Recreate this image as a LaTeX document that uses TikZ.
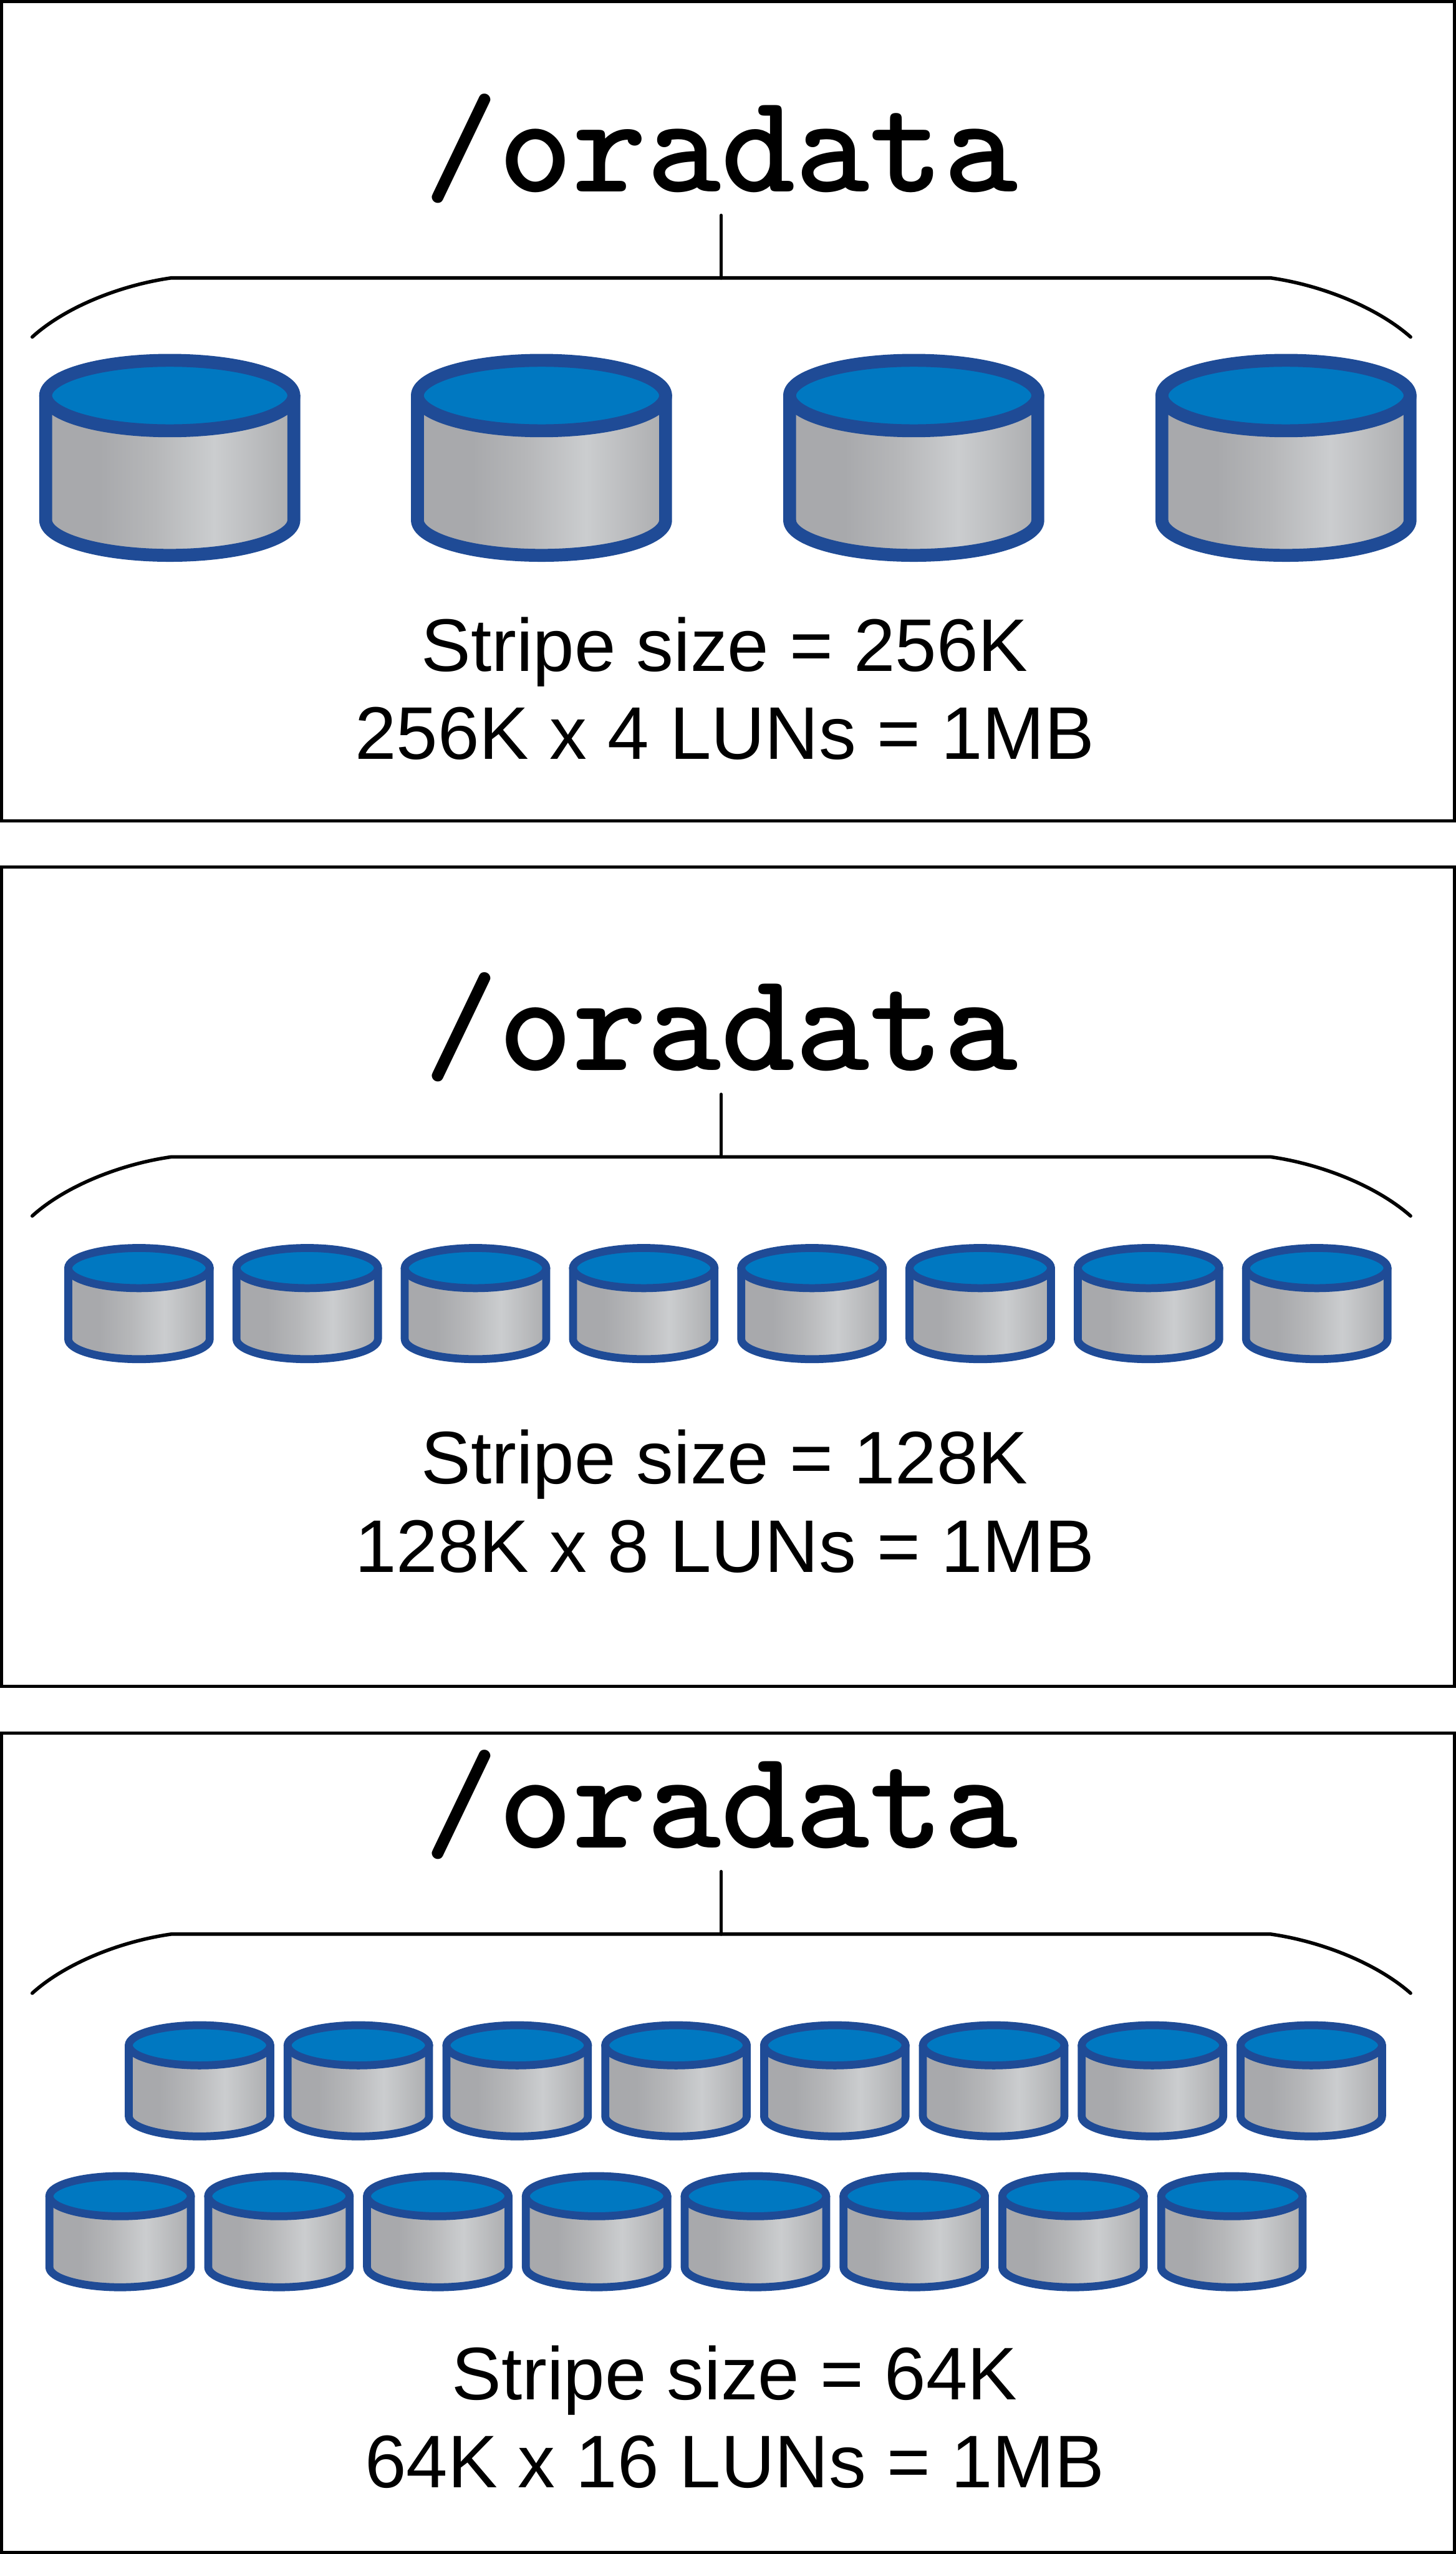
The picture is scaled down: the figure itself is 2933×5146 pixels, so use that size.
\documentclass[tikz,border=0pt]{standalone}
\usepackage{fontspec}
\setmainfont{Liberation Sans}
\usetikzlibrary{positioning,calc}
\definecolor{diskblue}{HTML}{1F4B96}
\definecolor{disktop}{HTML}{0078C1}
\definecolor{diskdark}{HTML}{A8A9AC}
\definecolor{diskmid}{HTML}{B6B7B9}
\definecolor{disklight}{HTML}{CBCDCF}
\definecolor{diskend}{HTML}{ACADAF}
\pgfdeclarehorizontalshading{diskshade}{100bp}{color(0bp)=(diskdark);color(36bp)=(diskdark);color(47bp)=(diskmid);color(59bp)=(disklight);color(75bp)=(diskend);color(100bp)=(diskend)}
\tikzset{x=0.01cm,y=-0.01cm,
  panelbox/.style={draw=black,line width=0.06cm,fill=white,outer sep=0pt,minimum width=29.26cm,minimum height=16.5cm,anchor=north west},
  titlelabel/.style={font=\fontsize{81}{81}\selectfont\ttfamily\bfseries\addfontfeature{FakeBold=2},inner sep=0pt,anchor=base},
  stripelabel/.style={font=\fontsize{42.7}{50.4}\selectfont,align=center,inner sep=0pt},
  bracketline/.style={draw=black,line width=0.07cm,line cap=round},
  lundisk/.pic={
    \draw[draw=diskblue,shading=diskshade,line join=round] (-250,0) -- (-250,251) .. controls (-250,290) and (-138,322) .. (0,322) .. controls (138,322) and (250,290) .. (250,251) -- (250,0) -- cycle;
    \draw[draw=diskblue,fill=disktop] (0,0) ellipse [x radius=250,y radius=71];
  },
  bigdisk/.style={scale=1,line width=0.26cm},
  smalldisk/.style={scale=0.57,line width=0.16cm}}
\begin{document}
\begin{tikzpicture}
\useasboundingbox (0,0) rectangle (2933,5146);
% top panel
\node[panelbox] (pa) at (3,3) {};
\node[titlelabel] (ta) at (1453,386) {/oradata};
\node[stripelabel] (la) at (1460,1387) {Stripe size = 256K\\256K x 4 LUNs = 1MB};
\foreach \n/\cx in {1/342,2/1091,3/1841,4/2591}
  \pic[bigdisk] (da\n) at (\cx,797) {lundisk};
% middle panel
\node[panelbox] (pb) at (3,1747) {};
\node[titlelabel] (tb) at (1453,2157) {/oradata};
\node[stripelabel] (lb) at (1460,3025) {Stripe size = 128K\\128K x 8 LUNs = 1MB};
\foreach \n in {0,...,7}
  \pic[smalldisk] (db\n) at ({280+339*\n},2555) {lundisk};
% bottom panel
\node[panelbox] (pc) at (3,3492) {};
\node[titlelabel] (tc) at (1453,3723) {/oradata};
\node[stripelabel] (lc) at (1480,4870) {Stripe size = 64K\\64K x 16 LUNs = 1MB};
\foreach \n in {0,...,7} {
  \pic[smalldisk] (dc\n) at ({402+320*\n},4121) {lundisk};
  \pic[smalldisk] (dd\n) at ({242+320*\n},4425) {lundisk};
}
% brackets
\foreach \p/\y in {a/0,b/1771,c/3337} {
  \coordinate (s\p) at (1453,{434+\y});
  \coordinate (j\p) at (1453,{560+\y});
  \coordinate (l\p) at (65,{679+\y});
  \coordinate (r\p) at (2842,{679+\y});
  \draw[bracketline] (s\p) -- (j\p);
  \draw[bracketline] (l\p) .. controls (130,{620+\y}) and (240,{575+\y}) .. (345,{560+\y}) -- (2560,{560+\y}) .. controls (2665,{575+\y}) and (2775,{620+\y}) .. (r\p);
}
\end{tikzpicture}
\end{document}
